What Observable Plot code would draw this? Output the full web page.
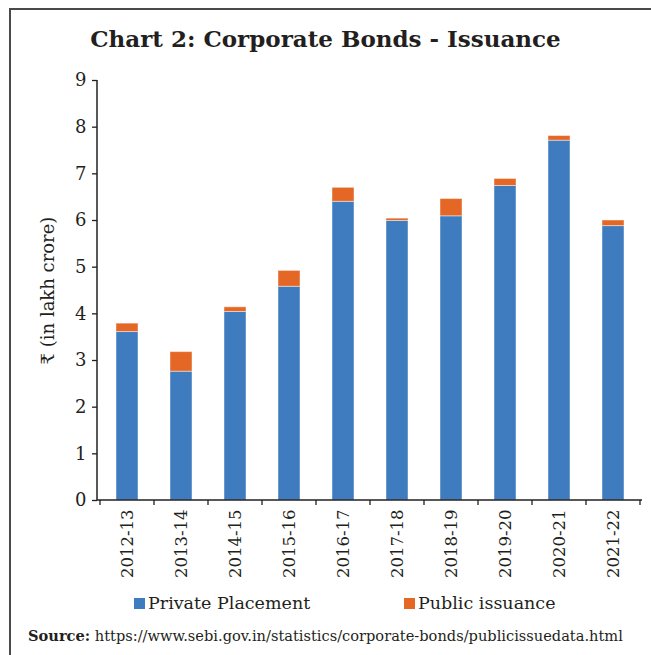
<!DOCTYPE html>
<html><head><meta charset="utf-8">
<script src="https://cdn.jsdelivr.net/npm/d3@7"></script>
<script src="https://cdn.jsdelivr.net/npm/@observablehq/plot@0.6"></script>
<style>
body{margin:0;background:#fff;width:651px;height:655px;overflow:hidden;position:relative;font-family:"DejaVu Serif",serif;color:#231f20}
#frame{position:absolute;left:9px;top:8px;width:700px;height:700px;border-top:2px solid #4a4a4a;border-left:2px solid #4a4a4a}
#title{position:absolute;top:25px;left:0;width:651px;text-align:center;font-weight:bold;font-size:23px;line-height:28px}
#chart{position:absolute;top:62px;left:0}
#legend{position:absolute;top:591px;left:0;width:651px;height:24px;font-size:17.5px;line-height:24px}
.item{position:absolute;top:0;white-space:nowrap}
.sw{display:inline-block;width:11px;height:11px;margin-right:3px;vertical-align:0px}
#source{position:absolute;left:28px;top:626px;font-size:14.6px;line-height:20px;white-space:nowrap}
</style>
</head><body>
<div id="frame"></div>
<div id="title">Chart 2: Corporate Bonds - Issuance</div>
<div id="chart"></div>
<div id="legend"></div>
<div id="source"><b>Source:</b> https://www.sebi.gov.in/statistics/corporate-bonds/publicissuedata.html</div>
<script>
const years = ["2012-13","2013-14","2014-15","2015-16","2016-17","2017-18","2018-19","2019-20","2020-21","2021-22"];
const privatePlacement = [3.61, 2.76, 4.04, 4.58, 6.40, 5.99, 6.09, 6.74, 7.71, 5.88];
const publicIssuance = [0.18, 0.42, 0.10, 0.34, 0.30, 0.05, 0.37, 0.15, 0.10, 0.12];
const seriesNames = ["Private Placement", "Public issuance"];
const seriesColors = ["#3f7bbf", "#e46725"];
const yTicks = [0, 1, 2, 3, 4, 5, 6, 7, 8, 9];
const yLabel = "₹ (in lakh crore)";

const rows = [];
years.forEach((y, i) => {
  rows.push({year: y, series: seriesNames[0], value: privatePlacement[i]});
  rows.push({year: y, series: seriesNames[1], value: publicIssuance[i]});
});

function axisLines(index, scales) {
  const x = scales.x, y = scales.y;
  const step = x.step(), bw = x.bandwidth();
  const dom = x.domain();
  const y0 = y(0), yTop = y(yTicks[yTicks.length - 1]);
  const [r0, r1] = x.range();
  const g = d3.create("svg:g").attr("stroke", "#231f20").attr("fill", "none");
  const bounds = dom.map(d => x(d) + bw / 2 - step / 2);
  bounds.push(x(dom[dom.length - 1]) + bw / 2 + step / 2);
  g.selectAll("line.t").data(bounds).join("line").attr("class", "t")
    .attr("x1", d => d).attr("x2", d => d).attr("y1", y0).attr("y2", y0 + 5).attr("stroke-width", 1.3);
  g.append("line").attr("x1", r0).attr("x2", r1).attr("y1", y0).attr("y2", y0).attr("stroke-width", 1.5);
  g.append("line").attr("x1", r0).attr("x2", r0).attr("y1", y0).attr("y2", yTop).attr("stroke-width", 1.5);
  return g.node();
}

const plot = Plot.plot({
  width: 651,
  height: 515,
  marginTop: 18,
  marginBottom: 77,
  marginLeft: 97,
  marginRight: 9,
  style: {fontFamily: "DejaVu Serif, serif", color: "#231f20", background: "transparent"},
  x: {domain: years, paddingInner: 0.6, paddingOuter: 0.3},
  y: {domain: [0, 9]},
  color: {domain: seriesNames, range: seriesColors},
  marks: [
    Plot.barY(rows, Plot.stackY({x: "year", y: "value", fill: "series", stroke: "#ffffff", strokeOpacity: 0.45, strokeWidth: 1})),
    Plot.axisY({ticks: yTicks, tickSize: 5, tickPadding: 6, fontSize: 18, label: yLabel, labelAnchor: "center", labelOffset: 56, labelArrow: "none", stroke: "#231f20", strokeWidth: 1.3}),
    Plot.axisX({tickSize: 0, tickRotate: -90, tickPadding: 9, fontSize: 16.5, label: null}),
    axisLines
  ]
});
document.getElementById("chart").appendChild(plot);

const legend = document.getElementById("legend");
const lefts = [134, 404];
seriesNames.forEach((s, i) => {
  const it = document.createElement("div");
  it.className = "item";
  it.style.left = lefts[i] + "px";
  it.innerHTML = `<span class="sw" style="background:${seriesColors[i]}"></span>${s}`;
  legend.appendChild(it);
});
</script>
</body></html>
